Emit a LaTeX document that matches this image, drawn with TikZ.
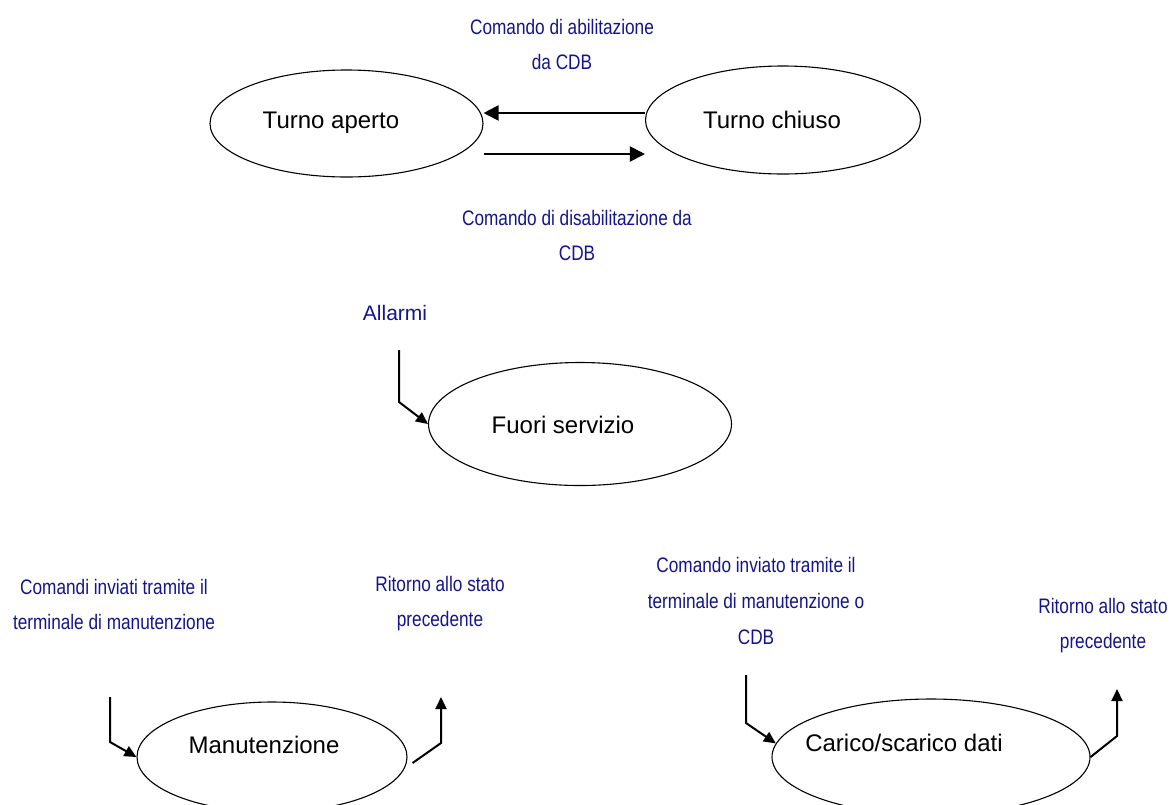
\documentclass[tikz,border=0pt]{standalone}
\usepackage{fontspec}
\setmainfont{Liberation Sans}
\newfontfamily\narrowfont{Liberation Sans}[FakeStretch=0.82]
\usetikzlibrary{arrows.meta,calc,shapes.geometric}
\definecolor{labelblue}{RGB}{20,20,140}
\tikzset{
  state/.style={draw, ellipse, line width=0.55pt, inner sep=0pt},
  statetext/.style={font=\fontsize{12}{14}\selectfont},
  cmd/.style={font=\narrowfont\fontsize{10.5}{17.5}\selectfont, text=labelblue, align=center},
  cmdwide/.style={font=\narrowfont\fontsize{10.5}{18}\selectfont, text=labelblue, align=center},
  flow/.style={line width=1pt, -{Triangle[length=6pt,width=5.5pt]}},
  bigflow/.style={line width=1pt, -{Triangle[length=7.5pt,width=7.5pt]}}
}
\begin{document}
\begin{tikzpicture}[x=0.5pt,y=-0.5pt]
  \useasboundingbox (0,0) rectangle (1170,804);
  \clip (0,0) rectangle (1170,804);

  % --- states ---
  \node[state, minimum width=136.5pt, minimum height=53.5pt] (aperto) at (346.5,123.5) {};
  \node[state, minimum width=137.5pt, minimum height=54pt]   (chiuso) at (783,120) {};
  \node[state, minimum width=151.5pt, minimum height=61.5pt] (fuori)  at (580,424) {};
  \node[state, minimum width=135pt,   minimum height=55pt]   (manut)  at (272,757) {};
  \node[state, minimum width=159pt,   minimum height=58pt]   (carico) at (931,757) {};

  \node[statetext] (taperto) at (331,123) {Turno aperto};
  \node[statetext] (tchiuso) at (772,120) {Turno chiuso};
  \node[statetext] (tfuori)  at (563,425) {Fuori servizio};
  \node[statetext] (tmanut)  at (264,745) {Manutenzione};
  \node[statetext] (tcarico) at (904,743) {Carico/scarico dati};

  % --- transition labels ---
  \node[cmd] (labab)  at (562,44)  {Comando di abilitazione\\da CDB};
  \node[cmd] (labdis) at (577,235) {Comando di disabilitazione da\\CDB};
  \node[font=\fontsize{10.5}{12}\selectfont, text=labelblue] (allarmi) at (395,313) {Allarmi};
  \node[cmd] (labman)  at (114,604) {Comandi inviati tramite il\\terminale di manutenzione};
  \node[cmd] (labret1) at (440,604) {Ritorno allo stato\\precedente};
  \node[cmdwide] (labcar) at (756,601) {Comando inviato tramite il\\terminale di manutenzione o\\CDB};
  \node[cmd] (labret2) at (1103,626) {Ritorno allo stato\\precedente};

  % --- transitions ---
  \coordinate (ytop) at (0,113);
  \coordinate (ybot) at (0,154);
  \draw[bigflow] (chiuso.west |- ytop) -- (aperto.east |- ytop);
  \draw[bigflow] (aperto.east |- ybot) -- (chiuso.west |- ybot);

  \coordinate (al1) at (399,350);
  \draw[flow] (al1) -- (399,402) -- (fuori.west);

  \coordinate (m1) at (110,697);
  \draw[flow] (m1) -- (110,742) -- (manut.west);
  \coordinate (m2) at (441,697);
  \draw[flow] ($(manut.east)+(5,6)$) -- (441,743) -- (m2);

  \coordinate (c1) at (746,675);
  \draw[flow] (c1) -- (746,723) -- (carico.175);
  \coordinate (c2) at (1117,689);
  \draw[flow] (carico.east) -- (1117,736) -- (c2);
\end{tikzpicture}
\end{document}
